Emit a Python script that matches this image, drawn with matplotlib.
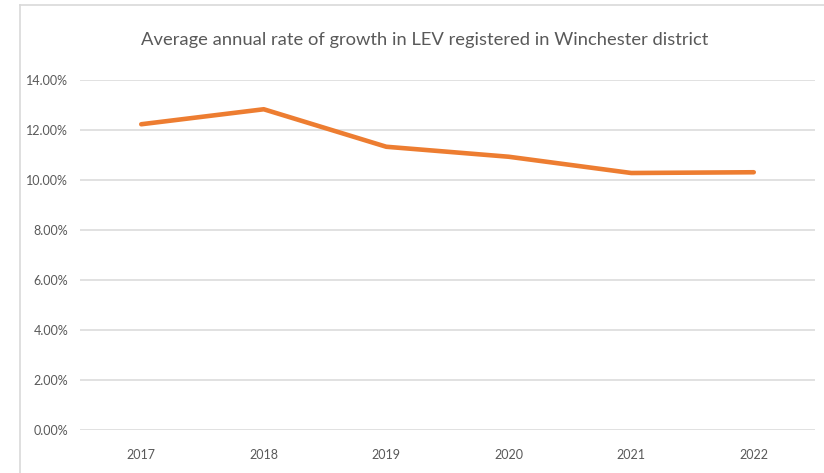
import matplotlib
matplotlib.use("Agg")
import matplotlib.pyplot as plt
from matplotlib.lines import Line2D
import matplotlib.ticker as mtick

years = ["2017", "2018", "2019", "2020", "2021", "2022"]
growth = [0.1223, 0.1283, 0.1133, 0.1093, 0.1028, 0.1031]
yticks = [0.0, 0.02, 0.04, 0.06, 0.08, 0.10, 0.12, 0.14]

# Lato is the closest installed face to Calibri
plt.rcParams['font.family'] = ['Lato', 'DejaVu Sans']

fig = plt.figure(figsize=(8.24, 4.73), dpi=100)
ax = fig.add_axes([80/824, 1 - 430/473, 735/824, 350/473])

x = list(range(len(years)))
ax.plot(x, growth, color='#ED7D31', linewidth=3.3, solid_capstyle='round', solid_joinstyle='round')

ax.set_xlim(-0.5, len(years) - 0.5)
ax.set_ylim(0, 0.14)
ax.set_yticks(yticks)
ax.yaxis.set_major_formatter(mtick.PercentFormatter(1.0, decimals=2))
ax.set_xticks(x)
ax.set_xticklabels(years)
ax.grid(axis='y', color='#d9d9d9', linewidth=1.1)
ax.set_axisbelow(True)
for s in ax.spines.values():
    s.set_visible(False)
ax.tick_params(length=0, labelsize=9, colors='#595959')
ax.tick_params(axis='y', pad=8.5)
ax.tick_params(axis='x', pad=14)

fig.text(425/824, 1 - 40/473, "Average annual rate of growth in LEV registered in Winchester district",
         ha='center', va='center', fontsize=13.2, color='#595959')

# outer chart border (left and top only visible)
fig.add_artist(Line2D([20/824, 20/824], [0, 1 - 5/473], color='#d9d9d9', linewidth=1.2))
fig.add_artist(Line2D([20/824, 1], [1 - 5/473, 1 - 5/473], color='#d9d9d9', linewidth=1.2))

fig.savefig("out.png", dpi=100)
